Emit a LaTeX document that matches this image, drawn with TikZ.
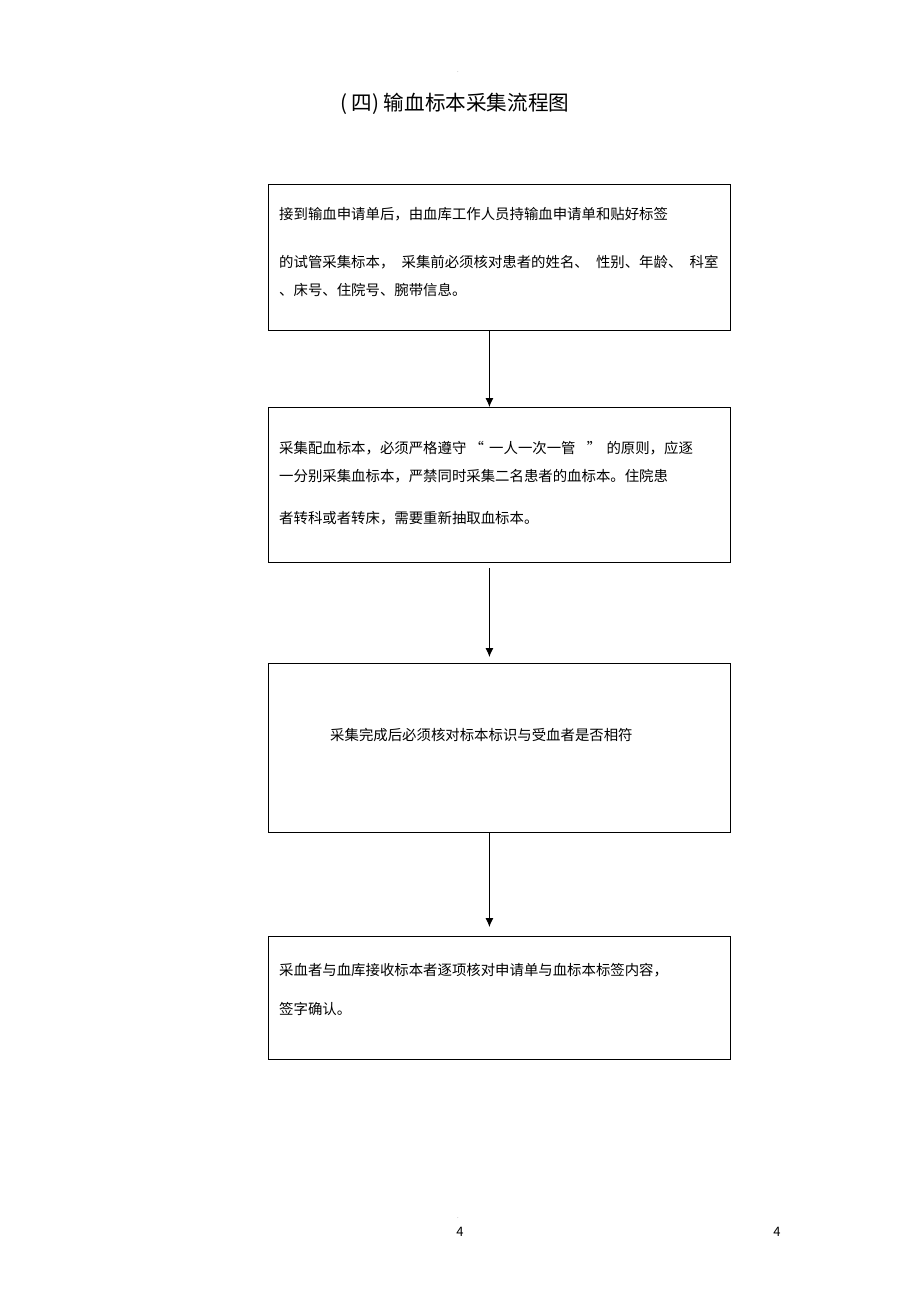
\documentclass[tikz,border=0pt]{standalone}
\usepackage{fontspec}
\setmainfont{Noto Sans CJK SC}
\usetikzlibrary{arrows.meta}
\tikzset{>={Latex[length=9pt,width=8pt]}}
\tikzstyle{stepbox}=[draw,line width=0.8,minimum width=462pt,inner sep=0,
                     anchor=north west]
\tikzstyle{boxtext}=[anchor=west,inner sep=0,font=\fontsize{14.4}{16}\selectfont]
\tikzstyle{flow}=[->,line width=0.9]

\begin{document}
\begin{tikzpicture}[x=1pt,y=-1pt]
  \useasboundingbox[fill=white] (0,0) rectangle (920,1303);
  \def\L{279} % left edge of the box texts
  
  % TITLE
  \node[font=\fontsize{6}{6}\selectfont,text=black!50,inner sep=0] (dottop) at (458,72) {.};
  \node[anchor=west,inner sep=0,font=\fontsize{20.6}{22}\selectfont] (title) at (340,104)
    {( 四) 输血标本采集流程图};
  
  % BOXES
  \node[stepbox,minimum height=146pt] (apply)   at (268,184) {};
  \node[stepbox,minimum height=155pt] (collect) at (268,407) {};
  \node[stepbox,minimum height=169pt] (check)   at (268,663) {};
  \node[stepbox,minimum height=123pt] (sign)    at (268,936) {};
  
  % BOX TEXTS
  \node[boxtext] (apply1) at (\L,214) {接到输血申请单后，由血库工作人员持输血申请单和贴好标签};
  \node[boxtext] (apply2) at (\L,262)
    {的试管采集标本，\hspace{4pt} 采集前必须核对患者的姓名、\hspace{4pt} 性别、年龄、\hspace{4pt} 科室};
  \node[boxtext] (apply3) at (\L,290) {、床号、住院号、腕带信息。};
  \node[boxtext] (collect1) at (\L,448)
    {采集配血标本，必须严格遵守 “ \hspace{2pt}一人一次一管\hspace{8pt} ” \hspace{2pt}的原则，应逐};
  \node[boxtext] (collect2) at (\L,476) {一分别采集血标本，严禁同时采集二名患者的血标本。住院患};
  \node[boxtext] (collect3) at (\L,518) {者转科或者转床，需要重新抽取血标本。};
  \node[boxtext] (check1) at (330,735) {采集完成后必须核对标本标识与受血者是否相符};
  \node[boxtext] (sign1) at (\L,970) {采血者与血库接收标本者逐项核对申请单与血标本标签内容，};
  \node[boxtext] (sign2) at (\L,1009) {签字确认。};
  
  % ARROWS
  \draw[flow] ([xshift=-10pt]apply.south) -- ([xshift=-10pt]collect.north);
  \draw[flow,shorten <=5pt,shorten >=6pt]
    ([xshift=-10pt]collect.south) -- ([xshift=-10pt]check.north);
  \draw[flow,shorten >=9pt] ([xshift=-10pt]check.south) -- ([xshift=-10pt]sign.north);
  
  % PAGE NUMBERS
  \node[font=\fontsize{6}{6}\selectfont,text=black!50,inner sep=0] (dotbot) at (458,1218) {.};
  \node[font=\fontsize{13}{14}\selectfont,inner sep=0] (pagea) at (460,1232) {4};
  \node[font=\fontsize{13}{14}\selectfont,inner sep=0] (pageb) at (777,1232) {4};
\end{tikzpicture}
\end{document}
